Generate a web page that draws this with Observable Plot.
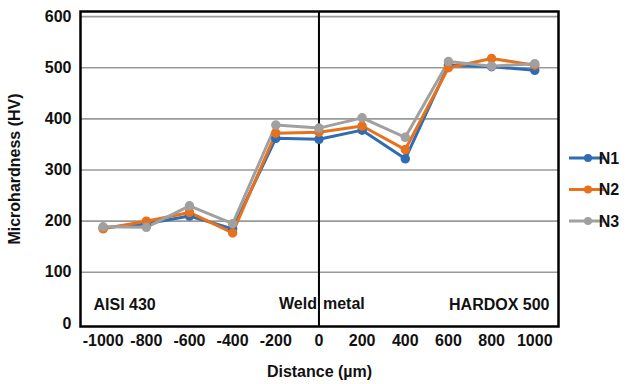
<!DOCTYPE html>
<html>
<head>
<meta charset="utf-8">
<script src="https://cdn.jsdelivr.net/npm/d3@7"></script>
<script src="https://cdn.jsdelivr.net/npm/@observablehq/plot@0.6"></script>
<style>
  html, body { margin: 0; padding: 0; background: #fff; }
  #chart { width: 633px; height: 384px; }
</style>
</head>
<body>
<div id="chart"></div>
<script>
const distance = [-1000, -800, -600, -400, -200, 0, 200, 400, 600, 800, 1000];
const N1 = [187, 195, 210, 185, 362, 360, 378, 322, 505, 502, 495];
const N2 = [185, 200, 217, 177, 372, 374, 386, 340, 500, 518, 505];
const N3 = [189, 188, 230, 195, 388, 382, 402, 364, 512, 503, 508];
const seriesNames = ["N1", "N2", "N3"];
const seriesColors = ["#2e6db4", "#e8711c", "#a0a0a0"];
const xTicks = [-1000, -800, -600, -400, -200, 0, 200, 400, 600, 800, 1000];
const yTicks = [0, 100, 200, 300, 400, 500, 600];
const gridValues = [100, 200, 300, 400, 500, 600];

const seriesValues = [N1, N2, N3];
const rows = seriesNames.flatMap((name, si) =>
  distance.map((d, i) => ({series: name, distance: d, hv: seriesValues[si][i]}))
);

const FONT = "'Liberation Sans', Arial, Helvetica, sans-serif";

const plot = Plot.plot({
  width: 633,
  height: 384,
  marginLeft: 80,
  marginRight: 75,
  marginTop: 11,
  marginBottom: 58,
  style: {fontFamily: FONT, fontSize: "16px", fontWeight: "bold", background: "white", color: "#111"},
  x: {domain: [-1105, 1110]},
  y: {domain: [-6, 610]},
  color: {domain: seriesNames, range: seriesColors},
  marks: [
    Plot.ruleY(gridValues, {stroke: "#9a9a9a", strokeWidth: 1.6}),
    Plot.ruleX([0], {stroke: "black", strokeWidth: 2}),
    Plot.frame({stroke: "black", strokeWidth: 2.5}),
    Plot.axisY({ticks: yTicks, tickSize: 0, tickPadding: 9, fontSize: 16, fontWeight: "bold",
      tickFormat: d => String(d),
      label: "Microhardness (HV)", labelAnchor: "center", labelArrow: "none", labelOffset: 72}),
    Plot.axisX({ticks: xTicks, tickSize: 0, tickPadding: 8, fontSize: 16, fontWeight: "bold",
      tickFormat: d => String(d),
      label: "Distance (µm)", labelAnchor: "center", labelArrow: "none", labelOffset: 50}),
    Plot.text(["AISI 430"], {frameAnchor: "bottom-left", dx: 13, dy: -22, lineAnchor: "middle", textAnchor: "start", fontSize: 16, fontWeight: "bold"}),
    Plot.text(["HARDOX 500"], {frameAnchor: "bottom-right", dx: -9, dy: -22, lineAnchor: "middle", textAnchor: "end", fontSize: 16, fontWeight: "bold"}),
    Plot.text(["Weld"], {x: 0, frameAnchor: "bottom", dx: -2, dy: -23, lineAnchor: "middle", textAnchor: "end", fontSize: 16, fontWeight: "bold"}),
    Plot.text(["metal"], {x: 0, frameAnchor: "bottom", dx: 4, dy: -23, lineAnchor: "middle", textAnchor: "start", fontSize: 16, fontWeight: "bold"}),
    Plot.line(rows, {x: "distance", y: "hv", z: "series", stroke: "series", strokeWidth: 3, strokeLinejoin: "round"}),
    Plot.dot(rows, {x: "distance", y: "hv", fill: "series", stroke: "series", r: 4})
  ]
});

document.getElementById("chart").appendChild(plot);

// Legend (line + marker swatches) in the right margin
const svg = d3.select(plot);
const lg = svg.append("g").attr("font-family", FONT).attr("font-size", 16).attr("font-weight", "bold");
seriesNames.forEach((name, i) => {
  const y = 158 + i * 31.5;
  const g = lg.append("g").attr("transform", `translate(0,${y})`);
  g.append("line").attr("x1", 569).attr("x2", 605).attr("y1", 0).attr("y2", 0)
    .attr("stroke", seriesColors[i]).attr("stroke-width", 3);
  g.append("circle").attr("cx", 588).attr("cy", 0).attr("r", 4).attr("fill", seriesColors[i]);
  g.append("text").attr("x", 609).attr("y", 0).attr("dy", "0.35em").attr("fill", "#111").text(name);
});
</script>
</body>
</html>
